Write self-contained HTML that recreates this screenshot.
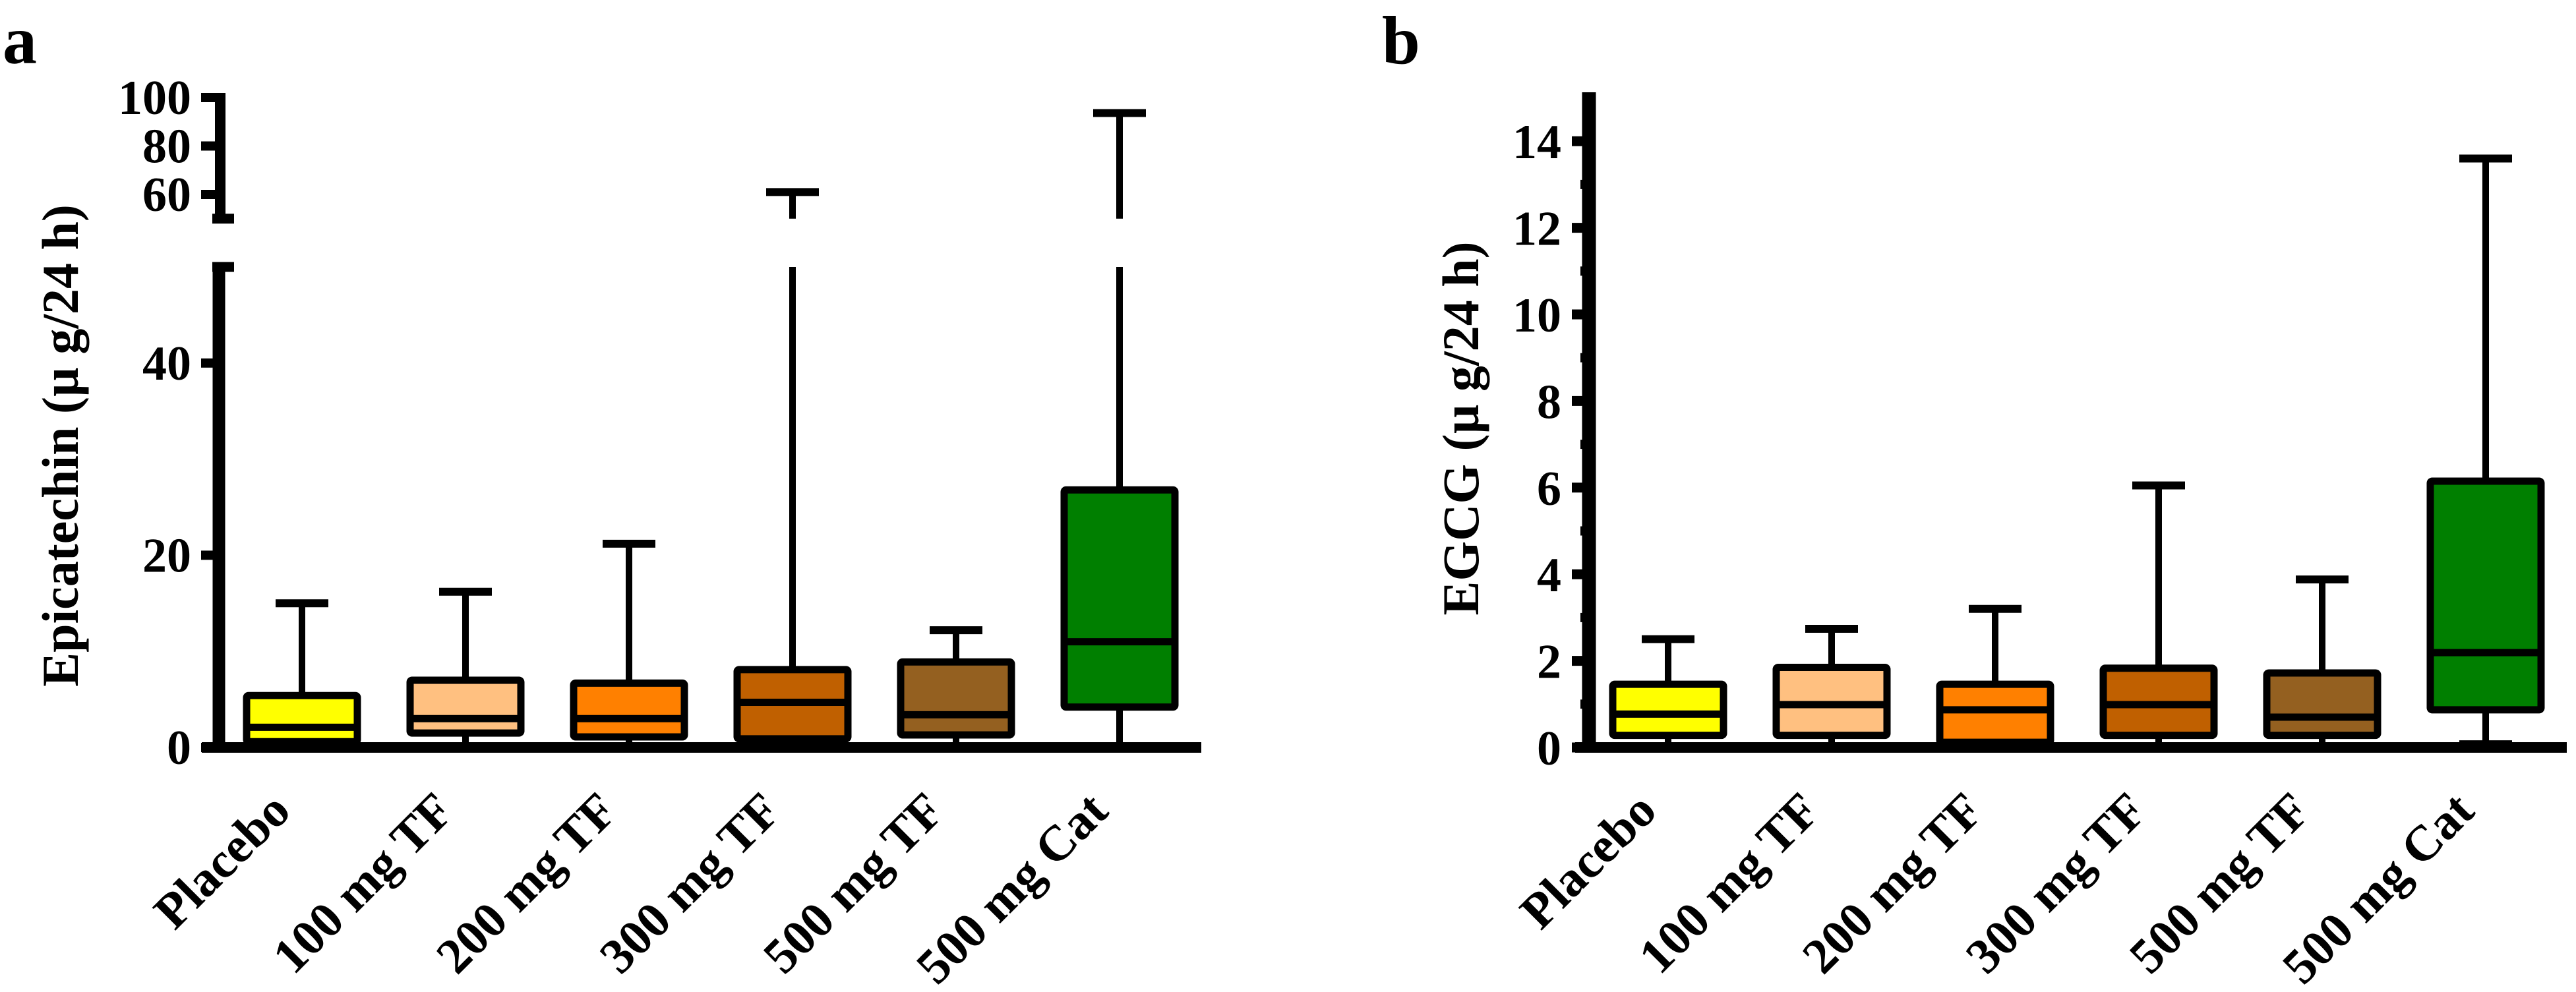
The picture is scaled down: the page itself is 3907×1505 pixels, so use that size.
<!DOCTYPE html>
<html><head><meta charset="utf-8"><style>
html,body{margin:0;padding:0;background:#fff;}
svg{display:block;}
text{font-family:"Liberation Serif","Times New Roman",serif;font-weight:bold;fill:#000;}
</style></head><body>
<svg id="chart" width="3907" height="1505" viewBox="0 0 3907 1505" xmlns="http://www.w3.org/2000/svg" font-family="Liberation Serif, serif">
<text x="4" y="96" font-size="104">a</text>
<text x="2096" y="96" font-size="104">b</text>
<g id="pa"></g>
<g id="pb"></g>
</svg>
<script>
const categories = ["Placebo","100 mg TF","200 mg TF","300 mg TF","500 mg TF","500 mg Cat"];
const colors = ["#ffff00","#ffc080","#ff8000","#c06000","#946020","#007f00"];
// Panel a: Epicatechin
const aMin = [0,0,0,0,0,0];
const aQ1 = [0.6,1.5,1.1,0.9,1.3,4.2];
const aMed = [2.1,3.0,3.0,4.7,3.4,11.0];
const aQ3 = [5.4,7.0,6.7,8.1,8.9,26.8];
const aMax = [15.0,16.2,21.2,61,12.2,93.6];
const aTicksLow = [0,20,40];
const aTicksHigh = [60,80,100];
// Panel b: EGCG
const bMin = [0,0,0,0,0,0.09];
const bQ1 = [0.28,0.28,0.12,0.28,0.28,0.87];
const bMed = [0.77,0.99,0.87,0.99,0.7,2.19];
const bQ3 = [1.46,1.85,1.46,1.83,1.72,6.15];
const bMax = [2.5,2.74,3.2,6.05,3.88,13.6];
const bTicks = [0,2,4,6,8,10,12,14];

const NS="http://www.w3.org/2000/svg";
function mk(parent,tag,attrs,txt){const e=document.createElementNS(NS,tag);for(const k in attrs)e.setAttribute(k,attrs[k]);if(txt!==undefined)e.textContent=txt;parent.appendChild(e);return e;}

const y0=1134;
function yaLow(v){return y0-v*14.58;}
function yaHigh(v){return 148+(100-v)*3.675;}
const aBreakLo=50, aLowTop=yaLow(50), aHighBot=yaHigh(50);
function ya(v){return v<=aBreakLo?yaLow(v):yaHigh(v);}
function yb(v){return y0-v*65.7;}
function xa(i){return 458+i*248;}
function xb(i){return 2530+i*248;}

function drawBoxes(g,xf,yf,mins,q1,med,q3,max,broken,prefix){
  const bw=168, cw=80;
  for(let i=0;i<categories.length;i++){
    const cx=xf(i);
    const grp=mk(g,'g',{});
    
    
    if(broken && max[i]>aBreakLo){
      mk(grp,'line',{x1:cx,x2:cx,y1:yf(q3[i]),y2:aLowTop,stroke:'#000','stroke-width':10});
      mk(grp,'line',{x1:cx,x2:cx,y1:aHighBot,y2:yaHigh(max[i]),stroke:'#000','stroke-width':10});
    } else {
      mk(grp,'line',{x1:cx,x2:cx,y1:yf(q3[i]),y2:yf(max[i]),stroke:'#000','stroke-width':10});
    }
    mk(grp,'line',{x1:cx-cw/2,x2:cx+cw/2,y1:yf(max[i]),y2:yf(max[i]),stroke:'#000','stroke-width':12});
    mk(grp,'line',{x1:cx,x2:cx,y1:yf(q1[i]),y2:yf(mins[i]),stroke:'#000','stroke-width':10});
    mk(grp,'line',{x1:cx-cw/2,x2:cx+cw/2,y1:yf(mins[i]),y2:yf(mins[i]),stroke:'#000','stroke-width':10});
    mk(grp,'rect',{x:cx-bw/2,y:yf(q3[i]),width:bw,height:Math.max(1,yf(q1[i])-yf(q3[i])),fill:colors[i],stroke:'#000','stroke-width':11,rx:3});
    mk(grp,'line',{x1:cx-bw/2,x2:cx+bw/2,y1:yf(med[i]),y2:yf(med[i]),stroke:'#000','stroke-width':11});
  }
}
function drawXLabels(g,xf,prefix){
  for(let i=0;i<categories.length;i++){
    const cx=xf(i)-14, cy=1234;
    const t=mk(g,'text',{x:cx,y:cy,'font-size':76,'text-anchor':'end',transform:'rotate(-45 '+cx+' '+cy+')'},categories[i]);
    
    
  }
}

// Panel A
const pa=document.getElementById('pa');
const axA=mk(pa,'g',{});


mk(axA,'line',{x1:332,x2:332,y1:y0,y2:aLowTop-7,stroke:'#000','stroke-width':19});
mk(axA,'line',{x1:322,x2:355,y1:aLowTop,y2:aLowTop,stroke:'#000','stroke-width':15});
mk(axA,'line',{x1:334,x2:334,y1:aHighBot,y2:yaHigh(100)-7,stroke:'#000','stroke-width':16});
mk(axA,'line',{x1:322,x2:355,y1:aHighBot,y2:aHighBot,stroke:'#000','stroke-width':15});
aTicksLow.forEach(v=>{
  mk(axA,'line',{x1:305,x2:334,y1:yaLow(v),y2:yaLow(v),stroke:'#000','stroke-width':14});
  mk(axA,'text',{x:290,y:yaLow(v)+25,'font-size':74,'text-anchor':'end'},String(v));
});
aTicksHigh.forEach(v=>{
  mk(axA,'line',{x1:305,x2:334,y1:yaHigh(v),y2:yaHigh(v),stroke:'#000','stroke-width':14});
  mk(axA,'text',{x:290,y:yaHigh(v)+25,'font-size':74,'text-anchor':'end'},String(v));
});
const xaxA=mk(pa,'line',{x1:306,x2:1822,y1:y0,y2:y0,stroke:'#000','stroke-width':16});


const ttlA=mk(pa,'text',{x:0,y:0,'font-size':78,'text-anchor':'middle',transform:'translate(118 676) rotate(-90)'},'Epicatechin (\u00b5 g/24 h)');


drawBoxes(pa,xa,ya,aMin,aQ1,aMed,aQ3,aMax,true,'panel-a');
drawXLabels(pa,xa,'panel-a');

// Panel B
const pb=document.getElementById('pb');
const axB=mk(pb,'g',{});


mk(axB,'line',{x1:2410,x2:2410,y1:y0,y2:140,stroke:'#000','stroke-width':21});
bTicks.forEach(v=>{
  mk(axB,'line',{x1:2384,x2:2410,y1:yb(v),y2:yb(v),stroke:'#000','stroke-width':15});
  mk(axB,'text',{x:2368,y:yb(v)+26,'font-size':74,'text-anchor':'end'},String(v));
  if(v<14){mk(axB,'line',{x1:2397,x2:2410,y1:yb(v+1),y2:yb(v+1),stroke:'#000','stroke-width':14});}
});
const xaxB=mk(pb,'line',{x1:2389,x2:3893,y1:y0,y2:y0,stroke:'#000','stroke-width':16});


const ttlB=mk(pb,'text',{x:0,y:0,'font-size':78,'text-anchor':'middle',transform:'translate(2242 650) rotate(-90)'},'EGCG (\u00b5 g/24 h)');


drawBoxes(pb,xb,yb,bMin,bQ1,bMed,bQ3,bMax,false,'panel-b');
drawXLabels(pb,xb,'panel-b');
</script>
</body></html>
